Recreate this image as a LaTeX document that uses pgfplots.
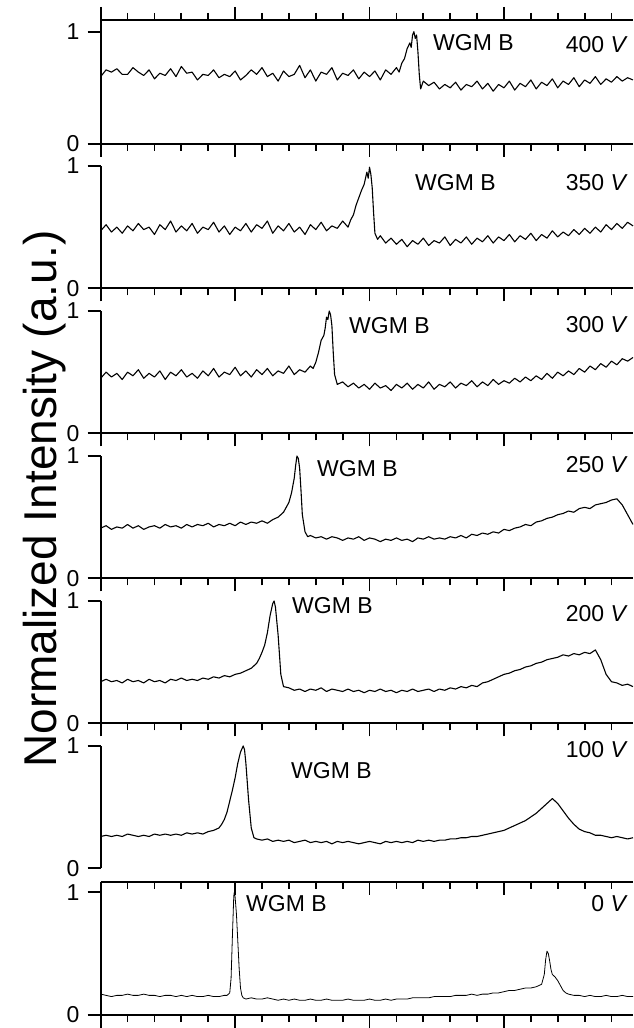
\documentclass[border=0pt]{standalone}
\usepackage{pgfplots}
\usepackage{pgfplotstable}
\pgfplotsset{compat=1.18}
\usepackage{fontspec}
\setmainfont{Liberation Sans}

% 400 V
\pgfplotstableread[row sep=\\]{x y\\
0.0 .60\\ 0.2 .66\\ 0.4 .64\\ 0.6 .67\\ 0.8 .62\\ 1.0 .62\\ 1.2 .68\\ 1.4 .64\\ 1.6 .61\\ 1.8 .66\\
2.0 .58\\ 2.2 .63\\ 2.4 .61\\ 2.6 .67\\ 2.8 .60\\ 3.0 .69\\ 3.2 .63\\ 3.4 .64\\ 3.6 .57\\ 3.8 .62\\
4.0 .61\\ 4.2 .66\\ 4.4 .59\\ 4.6 .62\\ 4.8 .60\\ 5.0 .65\\ 5.2 .57\\ 5.4 .61\\ 5.6 .66\\ 5.8 .62\\
6.0 .68\\ 6.2 .60\\ 6.4 .63\\ 6.6 .56\\ 6.8 .65\\ 7.0 .60\\ 7.2 .62\\ 7.4 .70\\ 7.6 .59\\ 7.8 .66\\
8.0 .56\\ 8.2 .64\\ 8.4 .62\\ 8.6 .68\\ 8.8 .57\\ 9.0 .63\\ 9.2 .61\\ 9.4 .66\\ 9.6 .58\\ 9.8 .64\\
10.0 .60\\ 10.2 .65\\ 10.4 .57\\ 10.6 .66\\ 10.8 .62\\ 11.0 .68\\ 11.1 .64\\ 11.2 .72\\ 11.3 .76\\ 11.4 .85\\
11.5 .90\\ 11.55 .86\\ 11.6 .97\\ 11.65 1.00\\ 11.7 .94\\ 11.75 .97\\ 11.8 .82\\ 11.85 .62\\ 11.9 .49\\ 12.0 .56\\
12.2 .52\\ 12.4 .55\\ 12.6 .49\\ 12.8 .53\\ 13.0 .50\\ 13.2 .55\\ 13.4 .48\\ 13.6 .53\\ 13.8 .51\\ 14.0 .56\\
14.2 .49\\ 14.4 .54\\ 14.6 .47\\ 14.8 .53\\ 15.0 .50\\ 15.2 .56\\ 15.4 .48\\ 15.6 .54\\ 15.8 .51\\ 16.0 .57\\
16.2 .49\\ 16.4 .55\\ 16.6 .52\\ 16.8 .58\\ 17.0 .50\\ 17.2 .56\\ 17.4 .53\\ 17.6 .59\\ 17.8 .51\\ 18.0 .57\\
18.2 .54\\ 18.4 .60\\ 18.6 .53\\ 18.8 .58\\ 19.0 .55\\ 19.2 .60\\ 19.4 .56\\ 19.6 .59\\ 19.8 .57\\
}\tA

% 350 V
\pgfplotstableread[row sep=\\]{x y\\
0.0 .47\\ 0.2 .52\\ 0.4 .46\\ 0.6 .50\\ 0.8 .45\\ 1.0 .51\\ 1.2 .47\\ 1.4 .53\\ 1.6 .48\\ 1.8 .50\\
2.0 .44\\ 2.2 .52\\ 2.4 .48\\ 2.6 .55\\ 2.8 .46\\ 3.0 .51\\ 3.2 .47\\ 3.4 .53\\ 3.6 .45\\ 3.8 .50\\
4.0 .48\\ 4.2 .54\\ 4.4 .46\\ 4.6 .51\\ 4.8 .44\\ 5.0 .50\\ 5.2 .47\\ 5.4 .53\\ 5.6 .46\\ 5.8 .52\\
6.0 .49\\ 6.2 .55\\ 6.4 .45\\ 6.6 .51\\ 6.8 .47\\ 7.0 .53\\ 7.2 .46\\ 7.4 .50\\ 7.6 .44\\ 7.8 .52\\
8.0 .48\\ 8.2 .54\\ 8.4 .47\\ 8.6 .51\\ 8.8 .49\\ 9.0 .55\\ 9.2 .50\\ 9.3 .56\\ 9.4 .60\\ 9.5 .68\\
9.6 .74\\ 9.7 .80\\ 9.8 .85\\ 9.9 .95\\ 9.95 .90\\ 10.0 .99\\ 10.05 .93\\ 10.1 .82\\ 10.15 .62\\ 10.2 .45\\
10.3 .40\\ 10.4 .43\\ 10.6 .37\\ 10.8 .41\\ 11.0 .36\\ 11.2 .40\\ 11.4 .34\\ 11.6 .39\\ 11.8 .36\\ 12.0 .41\\
12.2 .35\\ 12.4 .39\\ 12.6 .37\\ 12.8 .42\\ 13.0 .35\\ 13.2 .40\\ 13.4 .37\\ 13.6 .42\\ 13.8 .36\\ 14.0 .41\\
14.2 .38\\ 14.4 .43\\ 14.6 .37\\ 14.8 .42\\ 15.0 .39\\ 15.2 .44\\ 15.4 .38\\ 15.6 .43\\ 15.8 .40\\ 16.0 .45\\
16.2 .39\\ 16.4 .44\\ 16.6 .41\\ 16.8 .47\\ 17.0 .42\\ 17.2 .46\\ 17.4 .43\\ 17.6 .48\\ 17.8 .44\\ 18.0 .49\\
18.2 .45\\ 18.4 .50\\ 18.6 .46\\ 18.8 .52\\ 19.0 .48\\ 19.2 .53\\ 19.4 .49\\ 19.6 .54\\ 19.8 .51\\
}\tB

% 300 V
\pgfplotstableread[row sep=\\]{x y\\
0.0 .45\\ 0.2 .50\\ 0.4 .46\\ 0.6 .49\\ 0.8 .44\\ 1.0 .50\\ 1.2 .47\\ 1.4 .52\\ 1.6 .45\\ 1.8 .49\\
2.0 .46\\ 2.2 .51\\ 2.4 .44\\ 2.6 .50\\ 2.8 .47\\ 3.0 .52\\ 3.2 .46\\ 3.4 .49\\ 3.6 .45\\ 3.8 .51\\
4.0 .47\\ 4.2 .53\\ 4.4 .46\\ 4.6 .50\\ 4.8 .48\\ 5.0 .54\\ 5.2 .47\\ 5.4 .51\\ 5.6 .46\\ 5.8 .52\\
6.0 .48\\ 6.2 .53\\ 6.4 .47\\ 6.6 .51\\ 6.8 .49\\ 7.0 .55\\ 7.2 .48\\ 7.4 .52\\ 7.6 .50\\ 7.8 .55\\
7.9 .53\\ 8.0 .58\\ 8.1 .66\\ 8.2 .76\\ 8.3 .80\\ 8.35 .86\\ 8.4 .95\\ 8.45 .93\\ 8.5 1.00\\ 8.55 .97\\
8.6 .88\\ 8.65 .66\\ 8.7 .48\\ 8.8 .40\\ 9.0 .42\\ 9.2 .38\\ 9.4 .41\\ 9.6 .37\\ 9.8 .40\\ 10.0 .36\\
10.2 .41\\ 10.4 .37\\ 10.6 .39\\ 10.8 .35\\ 11.0 .40\\ 11.2 .37\\ 11.4 .41\\ 11.6 .36\\ 11.8 .40\\ 12.0 .37\\
12.2 .42\\ 12.4 .36\\ 12.6 .40\\ 12.8 .38\\ 13.0 .42\\ 13.2 .37\\ 13.4 .41\\ 13.6 .39\\ 13.8 .43\\ 14.0 .38\\
14.2 .42\\ 14.4 .39\\ 14.6 .44\\ 14.8 .40\\ 15.0 .43\\ 15.2 .41\\ 15.4 .45\\ 15.6 .42\\ 15.8 .46\\ 16.0 .43\\
16.2 .47\\ 16.4 .44\\ 16.6 .49\\ 16.8 .45\\ 17.0 .50\\ 17.2 .47\\ 17.4 .51\\ 17.6 .48\\ 17.8 .53\\ 18.0 .50\\
18.2 .55\\ 18.4 .52\\ 18.6 .57\\ 18.8 .54\\ 19.0 .59\\ 19.2 .56\\ 19.4 .61\\ 19.6 .59\\ 19.8 .62\\
}\tC

% 250 V
\pgfplotstableread[row sep=\\]{x y\\
0.0 .41\\ 0.2 .43\\ 0.4 .40\\ 0.6 .42\\ 0.8 .41\\ 1.0 .44\\ 1.2 .41\\ 1.4 .43\\ 1.6 .40\\ 1.8 .42\\
2.0 .43\\ 2.2 .41\\ 2.4 .44\\ 2.6 .42\\ 2.8 .43\\ 3.0 .41\\ 3.2 .44\\ 3.4 .42\\ 3.6 .44\\ 3.8 .43\\
4.0 .45\\ 4.2 .42\\ 4.4 .44\\ 4.6 .43\\ 4.8 .45\\ 5.0 .43\\ 5.2 .46\\ 5.4 .44\\ 5.6 .46\\ 5.8 .45\\
6.0 .47\\ 6.2 .45\\ 6.4 .48\\ 6.6 .50\\ 6.8 .54\\ 6.9 .58\\ 7.0 .62\\ 7.1 .70\\ 7.2 .82\\ 7.25 .92\\
7.3 1.00\\ 7.35 .98\\ 7.4 .90\\ 7.45 .72\\ 7.5 .52\\ 7.6 .38\\ 7.7 .34\\ 7.8 .35\\ 8.0 .33\\ 8.2 .34\\
8.4 .32\\ 8.6 .34\\ 8.8 .33\\ 9.0 .31\\ 9.2 .33\\ 9.4 .32\\ 9.6 .34\\ 9.8 .31\\ 10.0 .33\\ 10.2 .32\\
10.4 .30\\ 10.6 .32\\ 10.8 .31\\ 11.0 .33\\ 11.2 .31\\ 11.4 .32\\ 11.6 .30\\ 11.8 .33\\ 12.0 .32\\ 12.2 .34\\
12.4 .32\\ 12.6 .33\\ 12.8 .32\\ 13.0 .34\\ 13.2 .33\\ 13.4 .35\\ 13.6 .33\\ 13.8 .36\\ 14.0 .35\\ 14.2 .37\\
14.4 .36\\ 14.6 .38\\ 14.8 .37\\ 15.0 .40\\ 15.2 .39\\ 15.4 .41\\ 15.6 .42\\ 15.8 .44\\ 16.0 .43\\ 16.2 .46\\
16.4 .47\\ 16.6 .49\\ 16.8 .50\\ 17.0 .52\\ 17.2 .53\\ 17.4 .55\\ 17.6 .54\\ 17.8 .57\\ 18.0 .58\\ 18.2 .57\\
18.4 .60\\ 18.6 .61\\ 18.8 .62\\ 19.0 .64\\ 19.2 .65\\ 19.4 .60\\ 19.6 .52\\ 19.8 .44\\
}\tD

% 200 V
\pgfplotstableread[row sep=\\]{x y\\
0.0 .34\\ 0.2 .36\\ 0.4 .34\\ 0.6 .35\\ 0.8 .33\\ 1.0 .36\\ 1.2 .34\\ 1.4 .35\\ 1.6 .33\\ 1.8 .36\\
2.0 .34\\ 2.2 .35\\ 2.4 .33\\ 2.6 .36\\ 2.8 .35\\ 3.0 .37\\ 3.2 .35\\ 3.4 .36\\ 3.6 .35\\ 3.8 .37\\
4.0 .36\\ 4.2 .38\\ 4.4 .37\\ 4.6 .39\\ 4.8 .38\\ 5.0 .40\\ 5.2 .41\\ 5.4 .43\\ 5.6 .45\\ 5.8 .49\\
5.9 .53\\ 6.0 .58\\ 6.1 .64\\ 6.2 .74\\ 6.3 .88\\ 6.4 .98\\ 6.45 1.00\\ 6.5 .95\\ 6.6 .72\\ 6.7 .40\\
6.8 .30\\ 7.0 .29\\ 7.2 .27\\ 7.4 .28\\ 7.6 .26\\ 7.8 .28\\ 8.0 .27\\ 8.2 .29\\ 8.4 .26\\ 8.6 .28\\
8.8 .27\\ 9.0 .26\\ 9.2 .28\\ 9.4 .26\\ 9.6 .27\\ 9.8 .25\\ 10.0 .27\\ 10.2 .26\\ 10.4 .28\\ 10.6 .26\\
10.8 .27\\ 11.0 .25\\ 11.2 .27\\ 11.4 .26\\ 11.6 .28\\ 11.8 .26\\ 12.0 .27\\ 12.2 .28\\ 12.4 .26\\ 12.6 .28\\
12.8 .27\\ 13.0 .29\\ 13.2 .28\\ 13.4 .30\\ 13.6 .29\\ 13.8 .31\\ 14.0 .30\\ 14.2 .33\\ 14.4 .34\\ 14.6 .36\\
14.8 .38\\ 15.0 .40\\ 15.2 .41\\ 15.4 .43\\ 15.6 .44\\ 15.8 .46\\ 16.0 .47\\ 16.2 .49\\ 16.4 .50\\ 16.6 .52\\
16.8 .53\\ 17.0 .54\\ 17.2 .56\\ 17.4 .55\\ 17.6 .57\\ 17.8 .56\\ 18.0 .58\\ 18.2 .57\\ 18.4 .60\\ 18.6 .52\\
18.8 .40\\ 19.0 .34\\ 19.2 .33\\ 19.4 .31\\ 19.6 .32\\ 19.8 .30\\
}\tE

% 100 V
\pgfplotstableread[row sep=\\]{x y\\
0.0 .26\\ 0.2 .27\\ 0.4 .26\\ 0.6 .27\\ 0.8 .26\\ 1.0 .28\\ 1.2 .27\\ 1.4 .26\\ 1.6 .27\\ 1.8 .26\\
2.0 .28\\ 2.2 .27\\ 2.4 .28\\ 2.6 .27\\ 2.8 .28\\ 3.0 .27\\ 3.2 .29\\ 3.4 .28\\ 3.6 .29\\ 3.8 .28\\
4.0 .30\\ 4.2 .31\\ 4.4 .33\\ 4.5 .36\\ 4.6 .40\\ 4.7 .46\\ 4.8 .55\\ 4.9 .64\\ 5.0 .74\\ 5.1 .86\\
5.2 .95\\ 5.3 1.00\\ 5.35 .97\\ 5.4 .86\\ 5.5 .56\\ 5.6 .33\\ 5.7 .25\\ 5.8 .24\\ 6.0 .23\\ 6.2 .24\\
6.4 .22\\ 6.6 .23\\ 6.8 .22\\ 7.0 .23\\ 7.2 .21\\ 7.4 .22\\ 7.6 .23\\ 7.8 .21\\ 8.0 .22\\ 8.2 .21\\
8.4 .22\\ 8.6 .20\\ 8.8 .22\\ 9.0 .21\\ 9.2 .22\\ 9.4 .21\\ 9.6 .20\\ 9.8 .21\\ 10.0 .22\\ 10.2 .21\\
10.4 .20\\ 10.6 .22\\ 10.8 .21\\ 11.0 .22\\ 11.2 .21\\ 11.4 .22\\ 11.6 .21\\ 11.8 .23\\ 12.0 .22\\ 12.2 .23\\
12.4 .22\\ 12.6 .23\\ 12.8 .23\\ 13.0 .24\\ 13.2 .24\\ 13.4 .25\\ 13.6 .25\\ 13.8 .26\\ 14.0 .26\\ 14.2 .27\\
14.4 .28\\ 14.6 .29\\ 14.8 .30\\ 15.0 .31\\ 15.2 .33\\ 15.4 .35\\ 15.6 .37\\ 15.8 .39\\ 16.0 .42\\ 16.2 .45\\
16.4 .49\\ 16.6 .53\\ 16.8 .57\\ 17.0 .53\\ 17.2 .47\\ 17.4 .41\\ 17.6 .36\\ 17.8 .32\\ 18.0 .30\\ 18.2 .29\\
18.4 .27\\ 18.6 .27\\ 18.8 .26\\ 19.0 .25\\ 19.2 .26\\ 19.4 .25\\ 19.6 .24\\ 19.8 .25\\
}\tF

% 0 V
\pgfplotstableread[row sep=\\]{x y\\
0.0 .17\\ 0.2 .16\\ 0.4 .15\\ 0.6 .16\\ 0.8 .16\\ 1.0 .17\\ 1.2 .16\\ 1.4 .16\\ 1.6 .17\\ 1.8 .16\\
2.0 .16\\ 2.2 .15\\ 2.4 .16\\ 2.6 .16\\ 2.8 .15\\ 3.0 .16\\ 3.2 .15\\ 3.4 .16\\ 3.6 .15\\ 3.8 .15\\
4.0 .16\\ 4.2 .15\\ 4.4 .15\\ 4.6 .16\\ 4.7 .16\\ 4.8 .18\\ 4.85 .30\\ 4.9 .65\\ 4.95 .97\\ 4.97 1.00\\
5.0 .96\\ 5.05 .82\\ 5.1 .60\\ 5.15 .38\\ 5.2 .22\\ 5.25 .16\\ 5.3 .14\\ 5.4 .13\\ 5.6 .14\\ 5.8 .13\\
6.0 .13\\ 6.2 .14\\ 6.4 .13\\ 6.6 .12\\ 6.8 .13\\ 7.0 .12\\ 7.2 .13\\ 7.4 .12\\ 7.6 .12\\ 7.8 .13\\
8.0 .12\\ 8.2 .12\\ 8.4 .13\\ 8.6 .12\\ 8.8 .12\\ 9.0 .12\\ 9.2 .13\\ 9.4 .12\\ 9.6 .12\\ 9.8 .12\\
10.0 .13\\ 10.2 .12\\ 10.4 .12\\ 10.6 .13\\ 10.8 .12\\ 11.0 .13\\ 11.2 .13\\ 11.4 .13\\ 11.6 .14\\ 11.8 .14\\
12.0 .14\\ 12.2 .14\\ 12.4 .15\\ 12.6 .15\\ 12.8 .15\\ 13.0 .15\\ 13.2 .16\\ 13.4 .16\\ 13.6 .16\\ 13.8 .17\\
14.0 .16\\ 14.2 .17\\ 14.4 .17\\ 14.6 .18\\ 14.8 .18\\ 15.0 .19\\ 15.2 .20\\ 15.4 .20\\ 15.6 .21\\ 15.8 .22\\
16.0 .22\\ 16.2 .23\\ 16.4 .25\\ 16.5 .33\\ 16.55 .45\\ 16.6 .52\\ 16.65 .50\\ 16.7 .44\\ 16.75 .37\\ 16.8 .33\\
16.9 .31\\ 17.0 .28\\ 17.1 .24\\ 17.2 .20\\ 17.3 .18\\ 17.4 .17\\ 17.6 .16\\ 17.8 .16\\ 18.0 .15\\ 18.2 .16\\
18.4 .15\\ 18.6 .15\\ 18.8 .16\\ 19.0 .15\\ 19.2 .15\\ 19.4 .16\\ 19.6 .15\\ 19.8 .15\\
}\tG

\newcommand{\labfont}{\fontsize{23}{23}\selectfont}
\newcommand{\tickfont}{\fontsize{23}{23}\selectfont}

\pgfplotsset{
  panel/.style={
    scale only axis, width=532.3pt, height=122.3pt,
    xmin=0, xmax=19.8, ymin=0, ymax=1,
    axis x line*=bottom, axis y line*=left,
    axis line style={line width=1.8pt},
    xtick={0,5,10,15},
    minor xtick={1,2,3,4,6,7,8,9,11,12,13,14,16,17,18,19},
    xticklabels={},
    ytick={0,1},
    yticklabels={0,1},
    tick align=outside,
    major tick length=13pt, minor tick length=7pt,
    tick style={black, line width=1.8pt},
    yticklabel style={font=\tickfont, anchor=east, inner sep=0pt, xshift=-8pt},
    clip=false, anchor=south west,
  },
  spec/.style={black, line width=1.1pt, line join=round, mark=none},
}

\begin{document}
\begin{tikzpicture}[x=1pt,y=1pt]
\path[use as bounding box] (0,0) rectangle (633,1028);

% 400 V
\begin{axis}[panel, at={(100.7pt,884pt)}, height=124pt, ymax=1.104, axis x line*=box]
\addplot[spec] table[x=x,y=y] {\tA};
\end{axis}
% 350 V
\begin{axis}[panel, at={(100.7pt,739.7pt)}]
\addplot[spec] table[x=x,y=y] {\tB};
\end{axis}
% 300 V
\begin{axis}[panel, at={(100.7pt,594.7pt)}]
\addplot[spec] table[x=x,y=y] {\tC};
\end{axis}
% 250 V
\begin{axis}[panel, at={(100.7pt,449.7pt)}]
\addplot[spec] table[x=x,y=y] {\tD};
\end{axis}
% 200 V
\begin{axis}[panel, at={(100.7pt,304.7pt)}]
\addplot[spec] table[x=x,y=y] {\tE};
\end{axis}
% 100 V (no bottom x line)
\begin{axis}[panel, at={(100.7pt,159.7pt)}, axis x line=none]
\addplot[spec] table[x=x,y=y] {\tF};
\end{axis}
% 0 V
\begin{axis}[panel, at={(100.7pt,13pt)}, height=133.3pt, ymax=1.086]
\addplot[spec, line width=0.8pt] table[x=x,y=y] {\tG};
\end{axis}
\begin{axis}[panel, at={(100.7pt,13pt)}, height=133.3pt, ymax=1.086,
  axis x line*=top, axis y line=none, tick align=inside, ytick=\empty]
\end{axis}

% labels
\node[anchor=west, font=\labfont, inner sep=0pt] at (433,985) {WGM B};
\node[anchor=east, font=\labfont, inner sep=0pt] at (628,983) {400 \textit{V}};
\node[anchor=west, font=\labfont, inner sep=0pt] at (415,845) {WGM B};
\node[anchor=east, font=\labfont, inner sep=0pt] at (628,845) {350 \textit{V}};
\node[anchor=west, font=\labfont, inner sep=0pt] at (349,702) {WGM B};
\node[anchor=east, font=\labfont, inner sep=0pt] at (628,703) {300 \textit{V}};
\node[anchor=west, font=\labfont, inner sep=0pt] at (317,559) {WGM B};
\node[anchor=east, font=\labfont, inner sep=0pt] at (628,563) {250 \textit{V}};
\node[anchor=west, font=\labfont, inner sep=0pt] at (292,422) {WGM B};
\node[anchor=east, font=\labfont, inner sep=0pt] at (628,414) {200 \textit{V}};
\node[anchor=west, font=\labfont, inner sep=0pt] at (291,257) {WGM B};
\node[anchor=east, font=\labfont, inner sep=0pt] at (628,278) {100 \textit{V}};
\node[anchor=west, font=\labfont, inner sep=0pt] at (246,124) {WGM B};
\node[anchor=east, font=\labfont, inner sep=0pt] at (628,124) {0 \textit{V}};
\node[rotate=90, anchor=base, font=\fontsize{46}{46}\selectfont, inner sep=0pt] at (57,529) {Normalized Intensity (a.u.)};
\end{tikzpicture}
\end{document}
